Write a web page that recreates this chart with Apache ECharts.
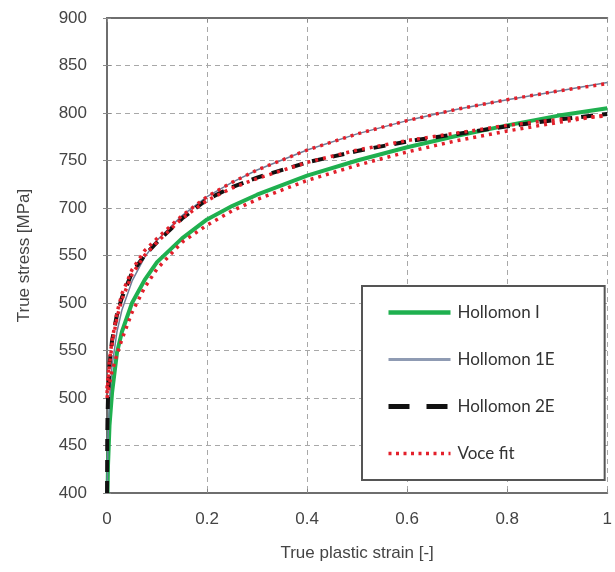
<!DOCTYPE html>
<html>
<head>
<meta charset="utf-8">
<script src="https://cdn.jsdelivr.net/npm/echarts@6/dist/echarts.min.js"></script>
<style>
  html, body { margin: 0; padding: 0; background: #fff; }
  #box1 { width: 615px; height: 572px; }
</style>
</head>
<body>
<div id="box1"></div>
<script>
// strain points (x) for each curve
var strainHol1 = [0.001, 0.002, 0.005, 0.01, 0.02, 0.03, 0.05, 0.075, 0.1, 0.15, 0.2, 0.25, 0.3, 0.4, 0.5, 0.6, 0.7, 0.8, 0.9, 1.0];
var stressHol1 = [400, 429, 471, 505, 548, 570, 600, 624, 643, 668, 688, 702, 714, 734, 750, 764, 776, 787, 797, 805];

var strainHol1E = [0.0005, 0.001, 0.002, 0.005, 0.01, 0.02, 0.03, 0.05, 0.075, 0.1, 0.15, 0.2, 0.25, 0.3, 0.4, 0.5, 0.6, 0.7, 0.8, 0.9, 1.0];
var stressHol1E = [400, 427, 456, 498, 533, 570, 593, 623, 648, 666, 692, 712, 727, 740, 761, 778, 792, 804, 814, 823, 832];

var strainHol2E = [0.0001, 0.0005, 0.001, 0.002, 0.005, 0.01, 0.02, 0.03, 0.05, 0.075, 0.1, 0.15, 0.2, 0.25, 0.3, 0.4, 0.5, 0.6, 0.7, 0.8, 0.9, 1.0];
var stressHol2E = [400, 455, 478, 500, 535, 560, 588, 606, 632, 650, 664, 689, 709, 722, 732, 748, 760, 770, 778, 786, 793, 799];

var strainVoce = [0, 0.005, 0.01, 0.02, 0.03, 0.05, 0.075, 0.1, 0.15, 0.2, 0.25, 0.3, 0.4, 0.5, 0.6, 0.7, 0.8, 0.9, 1.0];
var stressVoceA = [510, 540, 560, 590, 610, 635, 655, 668, 692, 712, 727, 740, 761, 778, 792, 804, 814, 823, 831];
var stressVoceB = [505, 535, 556, 585, 604, 630, 650, 664, 689, 708, 721, 731, 748, 761, 771, 779, 787, 793, 797];
var stressVoceC = [500, 515, 528, 546, 562, 590, 616, 636, 664, 682, 697, 709, 729, 745, 759, 771, 781, 790, 798];

var xTicks = [0, 0.2, 0.4, 0.6, 0.8, 1];
var yTickLabels = ['400', '450', '500', '550', '500', '550', '700', '750', '800', '850', '900'];

function pairs(xs, ys) {
	var out = [];
	for (var i = 0; i < xs.length; i++) out.push([xs[i], ys[i]]);
	return out;
}

var gridLine = { show: true, lineStyle: { color: '#a8a8a8', type: [5, 4], width: 1 } };
var frame = { show: true, lineStyle: { color: '#6e6e6e', width: 2 } };
var labelFont = { color: '#444', fontSize: 17, fontFamily: 'Liberation Sans' };

var voceStyle = { color: '#e3202b', width: 3.5, type: [3, 5] };

var option = {
	animation: false,
	backgroundColor: '#fff',
	grid: { left: 107, right: 2, top: 18, bottom: 79, show: false },
	legend: {
		orient: 'vertical',
		left: 362, top: 286,
		data: [
			{ name: 'Hollomon I', lineStyle: { width: 4.5, color: '#1fb04f' } },
			{ name: 'Hollomon 1E', lineStyle: { width: 3, color: '#8f9bb3' } },
			{ name: 'Hollomon 2E', lineStyle: { width: 5, color: '#111', type: [21, 17] } },
			{ name: 'Voce fit', lineStyle: { width: 3.5, color: '#e3202b', type: [3, 4.5] } }
		],
		itemWidth: 62, itemHeight: 12, itemGap: 30,
		padding: [18, 50, 18, 24],
		borderColor: '#555', borderWidth: 2,
		backgroundColor: '#fff',
		itemStyle: { color: 'transparent', borderColor: 'transparent', borderWidth: 0, opacity: 0 },
		textStyle: { color: '#333', fontSize: 17, fontFamily: 'Lato', padding: [0, 0, 0, 2] }
	},
	xAxis: [{
		type: 'value', min: 0, max: 1, interval: 0.2,
		name: 'True plastic strain [-]', nameLocation: 'middle', nameGap: 52,
		nameTextStyle: labelFont,
		axisLine: frame,
		axisTick: { show: true, inside: true, length: 4, lineStyle: { color: '#888' } },
		axisLabel: Object.assign({ margin: 18, formatter: function (v) { return String(+v.toFixed(1)); } }, labelFont),
		splitLine: gridLine
	}, {
		type: 'value', min: 0, max: 1, interval: 0.2, position: 'top',
		axisLine: frame,
		axisTick: { show: true, inside: true, length: 4, lineStyle: { color: '#888' } },
		axisLabel: { show: false }, splitLine: { show: false }
	}],
	yAxis: [{
		type: 'value', min: 400, max: 900, interval: 50,
		name: 'True stress [MPa]', nameLocation: 'middle', nameGap: 74,
		nameTextStyle: labelFont,
		axisLine: frame,
		axisTick: { show: true, inside: true, length: 4, lineStyle: { color: '#888' } },
		axisLabel: Object.assign({ margin: 20, formatter: function (v) { return yTickLabels[Math.round((v - 400) / 50)]; } }, labelFont),
		splitLine: gridLine
	}, {
		type: 'value', min: 400, max: 900, interval: 50, position: 'right',
		axisLine: frame,
		axisTick: { show: true, inside: true, length: 4, lineStyle: { color: '#888' } },
		axisLabel: { show: false }, splitLine: { show: false }
	}],
	series: [{
		name: 'Hollomon I', type: 'line', symbol: 'none',
		data: pairs(strainHol1, stressHol1),
		lineStyle: { color: '#1fb04f', width: 4 }, itemStyle: { color: '#1fb04f' }
	}, {
		name: 'Hollomon 1E', type: 'line', symbol: 'none',
		data: pairs(strainHol1E, stressHol1E),
		lineStyle: { color: '#6f7c98', width: 1.5 }, itemStyle: { color: '#8f9bb3' }
	}, {
		name: 'Hollomon 2E', type: 'line', symbol: 'none',
		data: pairs(strainHol2E, stressHol2E),
		lineStyle: { color: '#111', width: 4, type: [12, 9] }, itemStyle: { color: '#111' }
	}, {
		name: 'Voce fit', type: 'line', symbol: 'none',
		data: pairs(strainVoce, stressVoceA),
		lineStyle: voceStyle, itemStyle: { color: '#e3202b' }
	}, {
		name: 'Voce fit', type: 'line', symbol: 'none',
		data: pairs(strainVoce, stressVoceB),
		lineStyle: voceStyle, itemStyle: { color: '#e3202b' }
	}, {
		name: 'Voce fit', type: 'line', symbol: 'none',
		data: pairs(strainVoce, stressVoceC),
		lineStyle: voceStyle, itemStyle: { color: '#e3202b' }
	}]
};

var myChart = echarts.init(document.getElementById("box1"));
myChart.setOption(option);
</script>
</body>
</html>
